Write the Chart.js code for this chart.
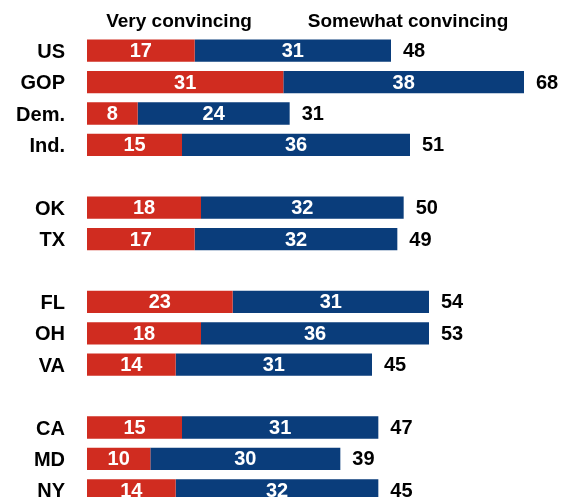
<!DOCTYPE html>
<html>
<head>
<meta charset="utf-8">
<script src="https://cdn.jsdelivr.net/npm/chart.js@4.4.1/dist/chart.umd.min.js"></script>
<style>
  html, body { margin: 0; padding: 0; background: #fff; overflow: hidden; }
  #myChart { display: block; }
</style>
</head>
<body>
<canvas id="myChart" width="569" height="540"></canvas>
<script>
const categories = ["US", "GOP", "Dem.", "Ind.", "", "OK", "TX", "", "FL", "OH", "VA", "", "CA", "MD", "NY"];
const veryConvincing = [17, 31, 8, 15, null, 18, 17, null, 23, 18, 14, null, 15, 10, 14];
const somewhatConvincing = [31, 38, 24, 36, null, 32, 32, null, 31, 36, 31, null, 31, 30, 32];
const totals = [48, 68, 31, 51, null, 50, 49, null, 54, 53, 45, null, 47, 39, 45];
const seriesNames = ["Very convincing", "Somewhat convincing"];

const fontFamily = "'Liberation Sans', Arial, sans-serif";
const red = "#d02c20";
const blue = "#0a3d7b";

// value labels inside bars, totals after bars, header labels
const barLabels = {
  id: "barLabels",
  afterDatasetsDraw(chart) {
    const ctx = chart.ctx;
    ctx.save();
    ctx.font = "bold 20px " + fontFamily;
    ctx.textBaseline = "middle";

    chart.data.datasets.forEach((ds, di) => {
      const meta = chart.getDatasetMeta(di);
      meta.data.forEach((bar, i) => {
        if (ds.data[i] == null) return;
        ctx.fillStyle = "#fff";
        ctx.textAlign = "center";
        ctx.fillText(ds.data[i], (bar.x + bar.base) / 2, bar.y + 1);
      });
    });

    const last = chart.getDatasetMeta(1);
    last.data.forEach((bar, i) => {
      if (totals[i] == null) return;
      ctx.fillStyle = "#000";
      ctx.textAlign = "left";
      ctx.fillText(totals[i], bar.x + 12, bar.y + 1);
    });

    // header
    const left = chart.chartArea.left;
    ctx.font = "bold 19px " + fontFamily;
    ctx.fillStyle = "#000";
    ctx.textAlign = "center";
    ctx.fillText(seriesNames[0], left + 92, 22);
    ctx.fillText(seriesNames[1], left + 321, 22);
    ctx.restore();
  }
};

const ctx = document.getElementById("myChart").getContext("2d");

new Chart(ctx, {
  type: "bar",
  data: {
    labels: categories,
    datasets: [
      {
        label: seriesNames[0],
        data: veryConvincing,
        backgroundColor: red,
        barPercentage: 0.71,
        categoryPercentage: 1
      },
      {
        label: seriesNames[1],
        data: somewhatConvincing,
        backgroundColor: blue,
        barPercentage: 0.71,
        categoryPercentage: 1
      }
    ]
  },
  options: {
    indexAxis: "y",
    responsive: false,
    animation: false,
    layout: { padding: { top: 35, right: 7, bottom: 1, left: 0 } },
    plugins: {
      legend: { display: false },
      tooltip: { enabled: false }
    },
    scales: {
      x: {
        stacked: true,
        display: false,
        min: 0,
        max: 75
      },
      y: {
        stacked: true,
        grid: { display: false, drawTicks: false },
        border: { display: false },
        ticks: {
          color: "#000",
          padding: 22,
          labelOffset: 1.5,
          font: { family: fontFamily, size: 20, weight: "bold" }
        },
        afterFit: scale => { scale.width = 87; }
      }
    }
  },
  plugins: [barLabels]
});
</script>
</body>
</html>
